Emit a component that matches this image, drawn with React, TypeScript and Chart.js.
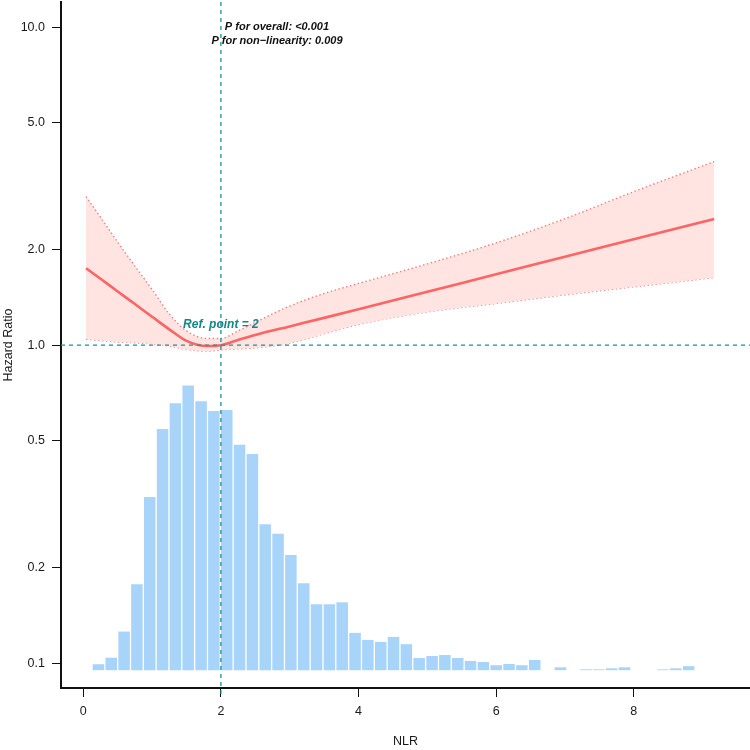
import { useEffect, useRef } from "react";
import { Chart, registerables } from "chart.js";

Chart.register(...registerables);

// ---- axis ranges / ticks ----
const X_MIN = -0.324;
const X_MAX = 9.69;
const Y_MIN = 0.0836;
const Y_MAX = 12.0;
const X_TICKS = [0, 2, 4, 6, 8];
const Y_TICKS = [0.1, 0.2, 0.5, 1, 2, 5, 10];

// ---- reference point ----
const REF_X = 2;
const REF_HR = 1;
const REF_LABEL = "Ref. point = 2";
const REF_LABEL_HR = 1.16;
const P_LINES = ["P for overall: <0.001", "P for non\u2212linearity: 0.009"];
const P_LABEL_X = 2.815;
const P_LABEL_HR = [10.0, 9.07];

// ---- spline curve (NLR vs hazard ratio) ----
const CURVE_X = [0.04, 0.25, 0.5, 0.75, 1.0, 1.25, 1.5, 1.8, 2.0, 2.25, 2.5, 3.0, 3.5, 4.0, 5.0, 6.0, 7.0, 8.0, 9.17];
const HR = [1.746, 1.618, 1.476, 1.347, 1.229, 1.122, 1.032, 0.994, 1.0, 1.039, 1.077, 1.146, 1.219, 1.298, 1.473, 1.671, 1.898, 2.153, 2.495];
const HR_UPPER = [2.933, 2.526, 2.11, 1.774, 1.497, 1.254, 1.109, 1.05, 1.05, 1.109, 1.18, 1.328, 1.454, 1.564, 1.802, 2.098, 2.5, 3.04, 3.779];
const HR_LOWER = [1.044, 1.035, 1.024, 1.018, 1.009, 0.995, 0.97, 0.958, 0.967, 0.974, 0.981, 1.015, 1.087, 1.162, 1.273, 1.353, 1.44, 1.526, 1.632];

// ---- NLR distribution histogram (bar tops in axis units) ----
const HIST_CENTER = [
  0.22, 0.406, 0.593, 0.779, 0.966, 1.152, 1.339, 1.525, 1.712, 1.898,
  2.085, 2.271, 2.458, 2.644, 2.831, 3.017, 3.204, 3.39, 3.577, 3.763,
  3.95, 4.136, 4.323, 4.509, 4.696, 4.882, 5.069, 5.255, 5.442, 5.628,
  5.815, 6.001, 6.188, 6.374, 6.561, 6.747, 6.934, 7.12, 7.307, 7.493,
  7.68, 7.866, 8.053, 8.239, 8.426, 8.612, 8.799,
];
const HIST_TOP: (number | null)[] = [
  0.0993, 0.1041, 0.1258, 0.1772, 0.3334, 0.5455, 0.6572, 0.7464, 0.6668, 0.6215,
  0.626, 0.4869, 0.4551, 0.2736, 0.2556, 0.2191, 0.1785, 0.1533, 0.1533, 0.1555,
  0.1246, 0.1184, 0.1167, 0.121, 0.1148, 0.1039, 0.1054, 0.1062, 0.1039, 0.1017,
  0.1009, 0.0986, 0.0995, 0.0986, 0.1024, null, 0.0971, null, 0.0957, 0.0957,
  0.0964, 0.0971, null, null, 0.0957, 0.0964, 0.0979,
];
const HIST_BASE = 0.0951;

const X_TITLE = "NLR";
const Y_TITLE = "Hazard Ratio";

const FONT = "'Liberation Sans', Arial, Helvetica, sans-serif";
const TEAL = "#1f9090";
const TEAL_TEXT = "#138686";
const LINE_RED = "#ff6464";
const CI_RED = "#ff7878";
const BAND = "#ffe4e1";
const BAR_BLUE = "#a9d4fa";

const overlayPlugin = {
  id: "overlay",
  afterDatasetsDraw(chart: any) {
    const { ctx, chartArea } = chart;
    const xs = chart.scales.x;
    const ys = chart.scales.y;
    ctx.save();
    ctx.strokeStyle = TEAL;
    ctx.lineWidth = 1.3;
    ctx.setLineDash([4, 4]);
    const rx = xs.getPixelForValue(REF_X);
    ctx.beginPath();
    ctx.moveTo(rx, chartArea.top);
    ctx.lineTo(rx, chartArea.bottom + 8);
    ctx.stroke();
    const ry = ys.getPixelForValue(REF_HR);
    ctx.beginPath();
    ctx.moveTo(chartArea.left, ry);
    ctx.lineTo(chartArea.right, ry);
    ctx.stroke();
    ctx.setLineDash([]);

    ctx.fillStyle = TEAL_TEXT;
    ctx.font = `italic bold 12px ${FONT}`;
    ctx.textAlign = "center";
    ctx.textBaseline = "middle";
    ctx.fillText(REF_LABEL, rx, ys.getPixelForValue(REF_LABEL_HR));

    ctx.fillStyle = "#111";
    ctx.font = `italic bold 11px ${FONT}`;
    P_LINES.forEach((t, i) => {
      ctx.fillText(t, xs.getPixelForValue(P_LABEL_X), ys.getPixelForValue(P_LABEL_HR[i]));
    });

    ctx.fillStyle = "#1a1a1a";
    ctx.font = `12.5px ${FONT}`;
    ctx.fillText(X_TITLE, (chartArea.left + chartArea.right) / 2, 742);
    ctx.save();
    ctx.translate(9, (chartArea.top + chartArea.bottom) / 2);
    ctx.rotate(-Math.PI / 2);
    ctx.fillText(Y_TITLE, 0, 0);
    ctx.restore();
    ctx.restore();
  },
};

export default function App() {
  const ref = useRef<HTMLCanvasElement | null>(null);
  useEffect(() => {
    if (!ref.current) return;
    const toXY = (ys: number[]) => CURVE_X.map((x, i) => ({ x, y: ys[i] }));
    const bars = HIST_CENTER.map((x, i) => ({ x, y: HIST_TOP[i] }))
      .filter((d) => d.y !== null)
      .map((d) => ({ x: d.x, y: [HIST_BASE, d.y as number] }));

    const lineCommon = { pointRadius: 0, cubicInterpolationMode: "monotone" };

    const chart = new Chart(ref.current, {
      type: "bar",
      data: {
        datasets: [
          {
            type: "line",
            label: "HR",
            data: toXY(HR),
            borderColor: LINE_RED,
            borderWidth: 2.6,
            ...lineCommon,
            order: 0,
          } as any,
          {
            type: "line",
            label: "upper",
            data: toXY(HR_UPPER),
            borderColor: CI_RED,
            borderWidth: 1.4,
            borderDash: [1.4, 2.6],
            ...lineCommon,
            fill: "+1",
            backgroundColor: BAND,
            order: 1,
          } as any,
          {
            type: "line",
            label: "lower",
            data: toXY(HR_LOWER),
            borderColor: CI_RED,
            borderWidth: 1.4,
            borderDash: [1.4, 2.6],
            ...lineCommon,
            fill: false,
            order: 1,
          } as any,
          {
            type: "bar",
            label: "hist",
            data: bars as any,
            backgroundColor: BAR_BLUE,
            borderWidth: 0,
            barPercentage: 0.9,
            categoryPercentage: 1,
            order: 2,
          } as any,
        ],
      },
      options: {
        responsive: false,
        animation: false,
        layout: { padding: { top: 2, right: 0, left: 0, bottom: 0 } },
        plugins: {
          legend: { display: false },
          tooltip: { enabled: false },
        },
        scales: {
          x: {
            type: "linear",
            min: X_MIN,
            max: X_MAX,
            offset: false,
            grid: { drawOnChartArea: false, drawTicks: true, tickLength: 9, color: "#111", offset: false },
            border: { display: true, color: "#111", width: 2 },
            ticks: {
              font: { family: FONT, size: 12.5 },
              color: "#1a1a1a",
              padding: 7,
              maxRotation: 0,
              callback: (v: any) => String(v),
            },
            afterBuildTicks: (s: any) => {
              s.ticks = X_TICKS.map((value) => ({ value }));
            },
            afterFit: (s: any) => {
              s.height = 62;
              s.paddingLeft = 0;
              s.paddingRight = 0;
            },
          },
          y: {
            type: "logarithmic",
            min: Y_MIN,
            max: Y_MAX,
            grid: { drawOnChartArea: false, drawTicks: true, tickLength: 9, color: "#111" },
            border: { display: true, color: "#111", width: 2 },
            ticks: {
              font: { family: FONT, size: 12.5 },
              color: "#1a1a1a",
              padding: 7,
              callback: (v: any) => Number(v).toFixed(1),
            },
            afterBuildTicks: (s: any) => {
              s.ticks = Y_TICKS.map((value) => ({ value }));
            },
            afterFit: (s: any) => {
              s.width = 61;
              s.paddingTop = 0;
              s.paddingBottom = 0;
            },
          },
        },
      },
      plugins: [overlayPlugin],
    });
    return () => chart.destroy();
  }, []);

  return (
    <div style={{ position: "fixed", left: 0, top: 0, width: 750, height: 750, background: "#fff" }}>
      <canvas ref={ref} width={750} height={750} />
    </div>
  );
}
